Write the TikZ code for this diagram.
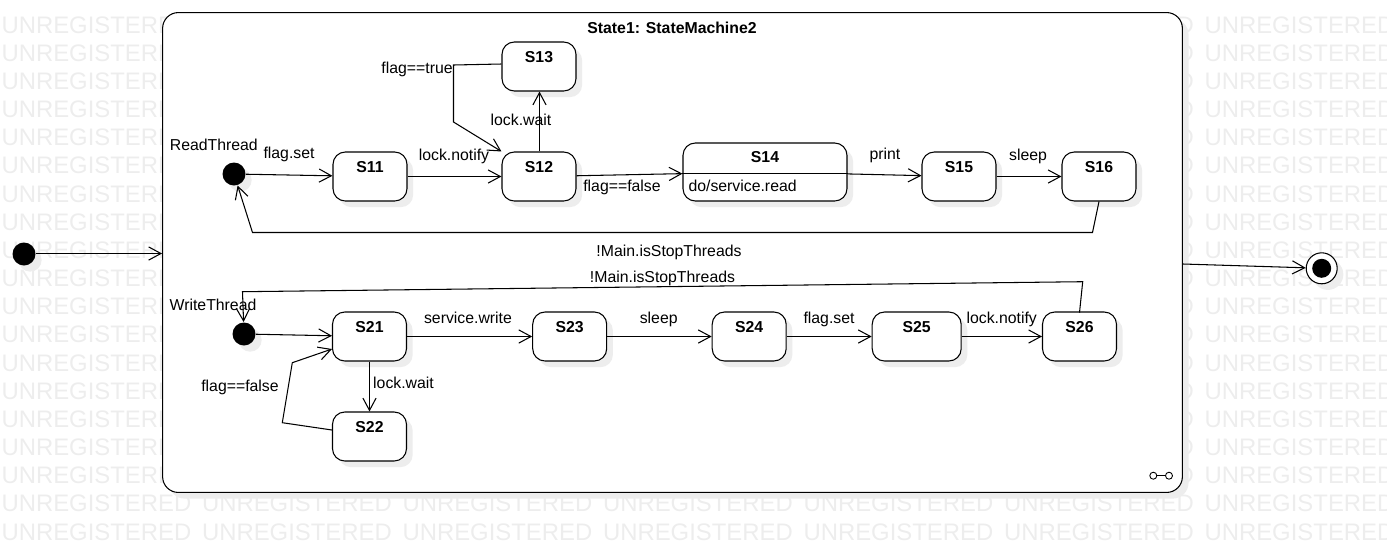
\documentclass[tikz,border=0pt]{standalone}
\usepackage{fontspec}
\setmainfont{Liberation Sans}
\usetikzlibrary{arrows.meta,shadows}

\begin{document}
\begin{tikzpicture}[x=0.02cm,y=-0.02cm,line width=0.6pt,
  font=\fontsize{9}{11}\selectfont,
  >={Straight Barb[length=7pt,width=7.5pt]},
  shade/.style={drop shadow={shadow xshift=3.5pt,shadow yshift=-3.5pt,
    fill=black!7,opacity=1}},
  state/.style={draw,fill=white,rounded corners=7pt,shade,inner sep=0pt,
    minimum width=1.48cm,text height=0.41cm,text depth=0.57cm,
    font=\fontsize{9}{11}\selectfont\bfseries},
  start/.style={circle,fill=black,inner sep=0pt,minimum size=0.46cm,shade},
  trig/.style={anchor=base,inner sep=0pt},
  wmark/.style={anchor=base west,inner sep=0pt,text=black!7,
    font=\fontsize{13.6}{16}\selectfont}]
  \useasboundingbox (0,0) rectangle (1387,542);
  \begin{scope}
    \clip (0,0) rectangle (1387,542);
    \foreach \i in {0,...,6}
      \foreach \j in {0,...,18} {
        \pgfmathtruncatemacro\hidden{and(and(\i>0,\i<5),\j<17)}
        \ifnum\hidden=0
          \node[wmark] (wm-\i-\j) at ({1+200.5*\i},{33+28.17*\j}) {UNREGISTERED};
        \fi
      }
  \end{scope}

  % outer state
  \node[draw,fill=white,rounded corners=9pt,shade,inner sep=0pt,
    minimum width=20.4cm,minimum height=9.6cm] (sm) at (672.5,252.5) {};
  \node[trig,font=\fontsize{9}{11}\selectfont\bfseries] (smtitle) at (672,33) {State1: StateMachine2};
  \node[start] (init) at (24,254) {};
  \node[circle,draw,fill=white,shade,inner sep=0pt,minimum size=0.62cm] (fin) at (1321.7,268.3) {};
  \node[circle,fill=black,inner sep=0pt,minimum size=0.38cm] (fincore) at (fin) {};
  \draw[->] (init.east |- 0,253.5) -- (sm.west |- 0,253.5);
  \draw[->] (sm.east |- 0,264) -- (fin);

  % read thread
  \node[start] (rinit) at (234,174) {};
  \node[trig] (rname) at (213.8,150.7) {ReadThread};
  \node[state] (s11) at (370,176.5) {S11};
  \node[state] (s12) at (539,176.5) {S12};
  \node[state] (s13) at (539,66.5) {S13};
  \node[state,minimum width=3.28cm,text height=0.39cm,text depth=0.77cm] (s14) at (765,172) {S14};
  \node[state] (s15) at (959,176.5) {S15};
  \node[state] (s16) at (1099,176.5) {S16};
  \draw (s14.west |- 0,173.5) -- (s14.east |- 0,173.5);
  \node[anchor=base west,inner sep=0pt] (s14do) at (688,191.5) {do/service.read};

  \coordinate (c13a) at (453.5,65);
  \coordinate (c13b) at (453.5,122);
  \coordinate (r1) at (1092.5,232.5);
  \coordinate (r2) at (252.5,232.5);
  \draw[->] (rinit) -- (s11);
  \draw[->] (s11) -- (s12);
  \draw[->] (s12.north -| 539.5,0) -- (s13.south -| 539.5,0);
  \draw[->] (s13.west |- 0,64) -- (c13a) -- (c13b) -- (s12.north west);
  \draw[->] (s12) -- (s14);
  \draw[->] (s14) -- (s15);
  \draw[->] (s15) -- (s16);
  \draw[->] (s16.south) -- (r1) -- (r2) -- (rinit);
  \node[trig] (t1) at (289,158.5) {flag.set};
  \node[trig] (t2) at (454,160) {lock.notify};
  \node[trig] (t3) at (521,125) {lock.wait};
  \node[trig] (t4) at (417,73) {flag==true};
  \node[trig] (t5) at (622,191) {flag==false};
  \node[trig] (t6) at (885,159) {print};
  \node[trig] (t7) at (1028,160) {sleep};
  \node[trig] (t8) at (669,256) {!Main.isStopThreads};

  % write thread
  \node[start] (winit) at (244,334) {};
  \node[trig] (wname) at (213,310.7) {WriteThread};
  \node[state] (s21) at (369.5,336.5) {S21};
  \node[state] (s22) at (369.5,436.5) {S22};
  \node[state] (s23) at (569.7,336.5) {S23};
  \node[state] (s24) at (749.2,336.5) {S24};
  \node[state,minimum width=1.78cm] (s25) at (916.7,336.5) {S25};
  \node[state] (s26) at (1079.5,336.5) {S26};

  \coordinate (c22a) at (282.3,422.7);
  \coordinate (c22b) at (292.3,362.7);
  \coordinate (w1) at (1082.7,281.7);
  \coordinate (w2) at (242.5,291.7);
  \draw[->] (winit) -- (s21);
  \draw[->] (s21) -- (s22);
  \draw[->] (s22.west |- 0,430) -- (c22a) -- (c22b) -- (s21.west |- 0,349);
  \draw[->] (s21) -- (s23);
  \draw[->] (s23) -- (s24);
  \draw[->] (s24) -- (s25);
  \draw[->] (s25) -- (s26);
  \draw[->] (s26.north |- 0,312.7) -- (w1) -- (w2) -- (winit);
  \node[anchor=base west,inner sep=0pt] (u1) at (372.7,388.3) {lock.wait};
  \node[trig] (u2) at (240,391) {flag==false};
  \node[trig] (u3) at (468,323) {service.write};
  \node[trig] (u4) at (658.7,323) {sleep};
  \node[trig] (u5) at (829,323) {flag.set};
  \node[trig] (u6) at (1001.7,323) {lock.notify};
  \node[trig] (u7) at (662.5,282) {!Main.isStopThreads};

  \draw[line width=0.5pt] (1153.3,475.7) circle (0.07cm) (1169,475.7) circle (0.07cm);
  \draw[line width=0.5pt] (1156.8,475.7) -- (1165.5,475.7);
\end{tikzpicture}
\end{document}
